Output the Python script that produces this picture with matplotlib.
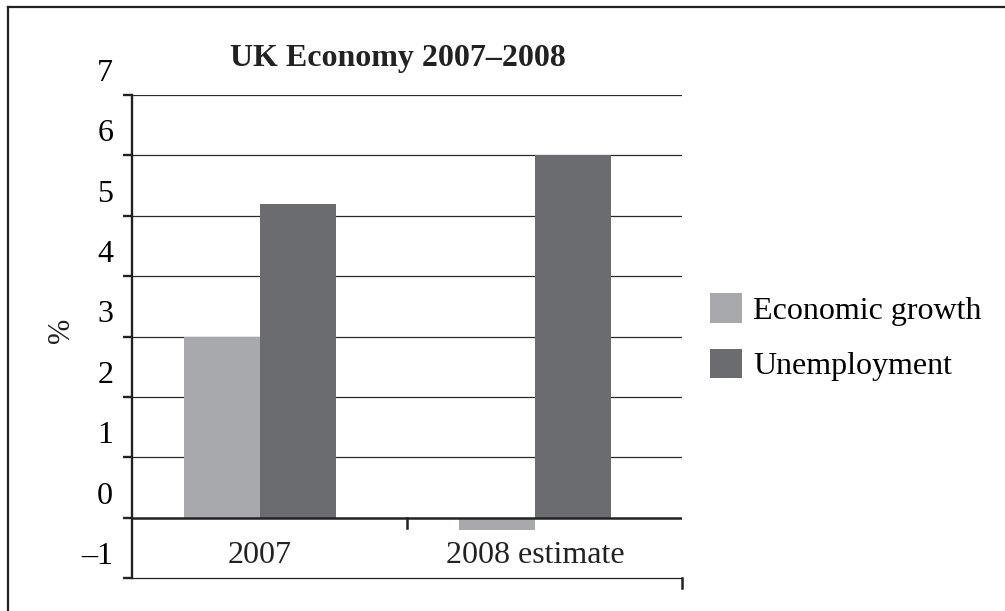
import matplotlib
matplotlib.use("Agg")
import matplotlib.pyplot as plt
import numpy as np
from matplotlib.transforms import ScaledTranslation, blended_transform_factory
from matplotlib.patches import Patch
from matplotlib.lines import Line2D

categories = ["2007", "2008 estimate"]
series_names = ["Economic growth", "Unemployment"]
economic_growth = [3.0, -0.2]
unemployment = [5.2, 6.0]
ytick_values = [-1, 0, 1, 2, 3, 4, 5, 6, 7]
ytick_labels = ["\u20131", "0", "1", "2", "3", "4", "5", "6", "7"]
title = "UK Economy 2007\u20132008"
ylabel = "%"

colors = ["#a8a9ac", "#6b6c70"]
plt.rcParams["font.family"] = ["Liberation Serif", "DejaVu Serif"]

fig = plt.figure(figsize=(10.05, 6.11), dpi=100)
ax = fig.add_axes([132/1005, 1-578/611, 550/1005, (578-95)/611])

x = np.arange(len(categories))
w = 0.276
ax.bar(x - w/2, economic_growth, w, color=colors[0], zorder=3)
ax.bar(x + w/2, unemployment, w, color=colors[1], zorder=3)

ax.set_xlim(-0.465, 1.535)
ax.set_ylim(-1, 7)

# gridlines
for v in ytick_values[2:]:
    ax.axhline(v, color="#2a2a2a", lw=0.9, zorder=1)
ax.axhline(0, color="#222222", lw=1.8, zorder=4)

for s in ["top", "right"]:
    ax.spines[s].set_visible(False)
ax.spines["left"].set_linewidth(1.7)
ax.spines["left"].set_color("#222222")
ax.spines["bottom"].set_linewidth(0.9)
ax.spines["bottom"].set_color("#222222")

ax.set_yticks(ytick_values)
ax.set_yticklabels(ytick_labels, fontsize=23)
ax.tick_params(axis="y", length=6.5, width=1.7, color="#222222", pad=7)
off = ScaledTranslation(0, 25/100, fig.dpi_scale_trans)
for lab in ax.get_yticklabels():
    lab.set_transform(lab.get_transform() + off)

ax.set_xticks([])
for i, c in enumerate(categories):
    ax.text(i, -0.62, c, ha="center", va="center", fontsize=23, color="#222222")

# decorative ticks
bt = blended_transform_factory(ax.transAxes, ax.transData)
ax.add_line(Line2D([0.5, 0.5], [0, -0.18], transform=bt, color="#222222", lw=1.8, clip_on=False))
ax.add_line(Line2D([1.0, 1.0], [-1, -1.17], transform=bt, color="#222222", lw=1.8, clip_on=False))

fig.text(398/1005, 1-66/611, title, ha="center", va="baseline", fontsize=23, fontweight="bold", color="#222222")
fig.text(62/1005, 1-330/611, ylabel, ha="center", va="center", fontsize=22, rotation=90, color="#222222")

handles = [Patch(facecolor=colors[0]), Patch(facecolor=colors[1])]
fig.legend(handles, series_names, loc="upper left", bbox_to_anchor=(710/1005, 1-293/611),
           frameon=False, fontsize=23, handlelength=1.0, handleheight=1.05,
           handletextpad=0.35, labelspacing=0.72, borderpad=0, borderaxespad=0)

# outer frame (top and left edges)
fig.add_artist(Line2D([8/1005, 1], [1-7/611, 1-7/611], transform=fig.transFigure, color="#222222", lw=1.6))
fig.add_artist(Line2D([8/1005, 8/1005], [0, 1-7/611], transform=fig.transFigure, color="#222222", lw=1.6))

fig.savefig("out.png", dpi=100)
